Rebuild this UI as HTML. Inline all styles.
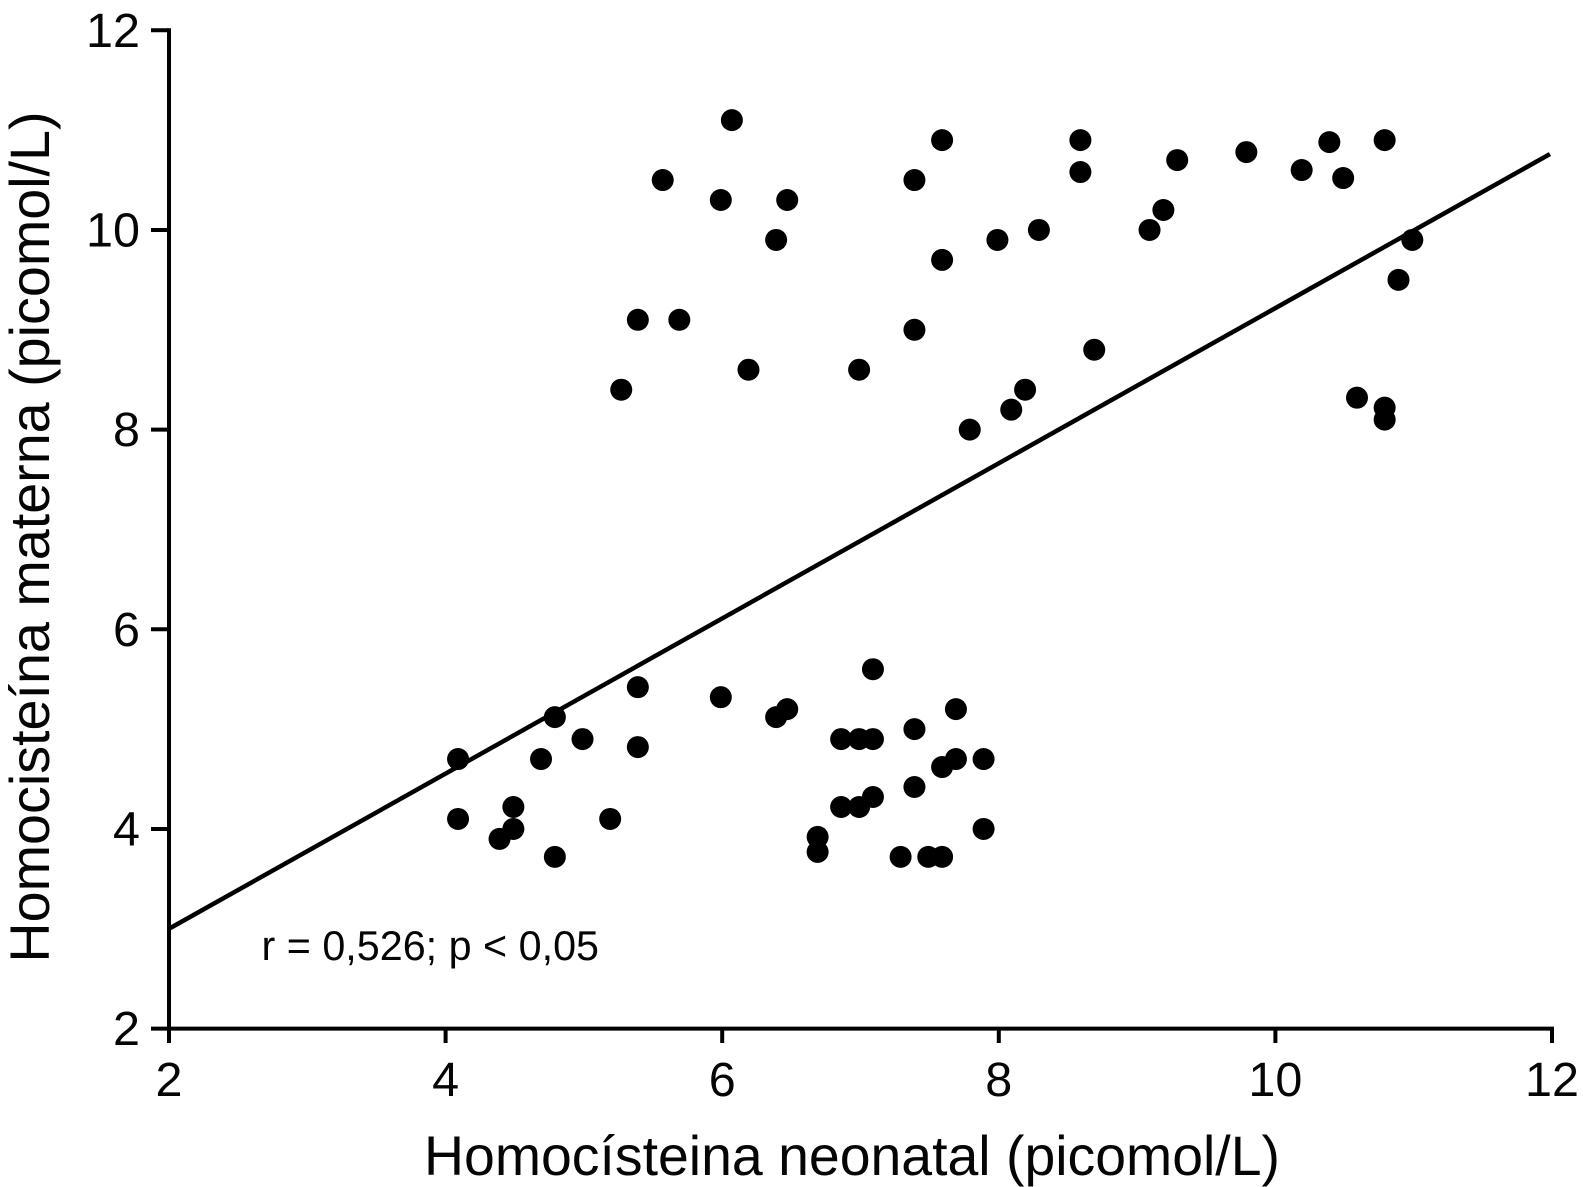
<!DOCTYPE html>
<html lang="es">
<head>
<meta charset="utf-8">
<title>Homocisteína materna vs neonatal</title>
<style>
html,body{margin:0;padding:0;background:#fff}
svg{display:block}
text{font-family:"Liberation Sans",Arial,sans-serif;fill:#050505}
</style>
</head>
<body>
<svg id="chart" xmlns="http://www.w3.org/2000/svg" width="1583" height="1187" viewBox="0 0 1583 1187"></svg>
<script>
const xTicks = [2, 4, 6, 8, 10, 12];
const yTicks = [2, 4, 6, 8, 10, 12];
const xValues = [6.07,5.57,5.99,6.47,6.39,5.39,5.69,6.19,5.27,6.99,7.39,7.59,7.59,7.39,7.79,7.99,8.29,8.59,8.59,8.69,8.09,8.19,9.09,9.19,9.29,9.79,10.19,10.39,10.49,10.79,10.99,10.89,10.59,10.79,10.79,
  4.09,4.09,4.39,4.49,4.49,4.69,4.79,4.79,4.99,5.19,5.39,5.39,5.99,6.39,6.47,6.69,6.69,6.86,6.99,7.09,6.86,6.99,7.09,7.09,7.39,7.39,7.59,7.69,7.69,7.89,7.89,7.29,7.49,7.59];
const yValues = [11.1,10.5,10.3,10.3,9.9,9.1,9.1,8.6,8.4,8.6,10.5,10.9,9.7,9.0,8.0,9.9,10.0,10.9,10.58,8.8,8.2,8.4,10.0,10.2,10.7,10.78,10.6,10.88,10.52,10.9,9.9,9.5,8.32,8.22,8.1,
  4.7,4.1,3.9,4.0,4.22,4.7,5.12,3.72,4.9,4.1,5.42,4.82,5.32,5.12,5.2,3.92,3.77,4.9,4.9,4.9,4.22,4.22,4.32,5.6,5.0,4.42,4.62,4.7,5.2,4.7,4.0,3.72,3.72,3.72];
const fitX = [2, 11.985];
const fitY = [3.0, 10.76];

const NS = 'http://www.w3.org/2000/svg';
const svg = document.getElementById('chart');
const sx = v => 169 + (v - 2) * 138.3;
const sy = v => 1028.6 - (v - 2) * 99.83;
function mk(tag, attrs, txt) {
  const e = document.createElementNS(NS, tag);
  for (const k in attrs) e.setAttribute(k, attrs[k]);
  if (txt !== undefined) e.textContent = txt;
  svg.appendChild(e);
  return e;
}
let el;
el = mk('line', {x1: sx(2), y1: sy(12) - 2, x2: sx(2), y2: sy(2) + 2, stroke: '#000', 'stroke-width': 4});


el = mk('line', {x1: sx(2), y1: sy(2), x2: sx(12) + 2, y2: sy(2), stroke: '#000', 'stroke-width': 4});


yTicks.forEach(t => {
  let m = mk('line', {x1: 151, y1: sy(t), x2: sx(2), y2: sy(t), stroke: '#000', 'stroke-width': 4});
  
  
  let l = mk('text', {x: 140, y: sy(t) + 16.5, 'font-size': 48.5, 'text-anchor': 'end'}, t);
  
  
});
xTicks.forEach(t => {
  let m = mk('line', {x1: sx(t), y1: sy(2), x2: sx(t), y2: 1043, stroke: '#000', 'stroke-width': 4});
  
  
  let l = mk('text', {x: sx(t), y: 1096, 'font-size': 48.5, 'text-anchor': 'middle'}, t);
  
  
});
el = mk('line', {x1: sx(fitX[0]), y1: sy(fitY[0]), x2: sx(fitX[1]), y2: sy(fitY[1]), stroke: '#000', 'stroke-width': 4.5});


xValues.forEach((v, i) => {
  const c = mk('circle', {cx: sx(v), cy: sy(yValues[i]), r: 11, fill: '#000'});
  
  
});
el = mk('text', {x: 852, y: 1175, 'font-size': 55.4, 'text-anchor': 'middle'}, 'Homocísteina neonatal (picomol/L)');


el = mk('text', {x: 0, y: 0, 'font-size': 55.7, 'text-anchor': 'middle', transform: 'translate(49 537) rotate(-90)'}, 'Homocisteína materna (picomol/L)');


el = mk('text', {x: 261.5, y: 960, 'font-size': 41.3}, 'r = 0,526; p < 0,05');


</script>
</body>
</html>
